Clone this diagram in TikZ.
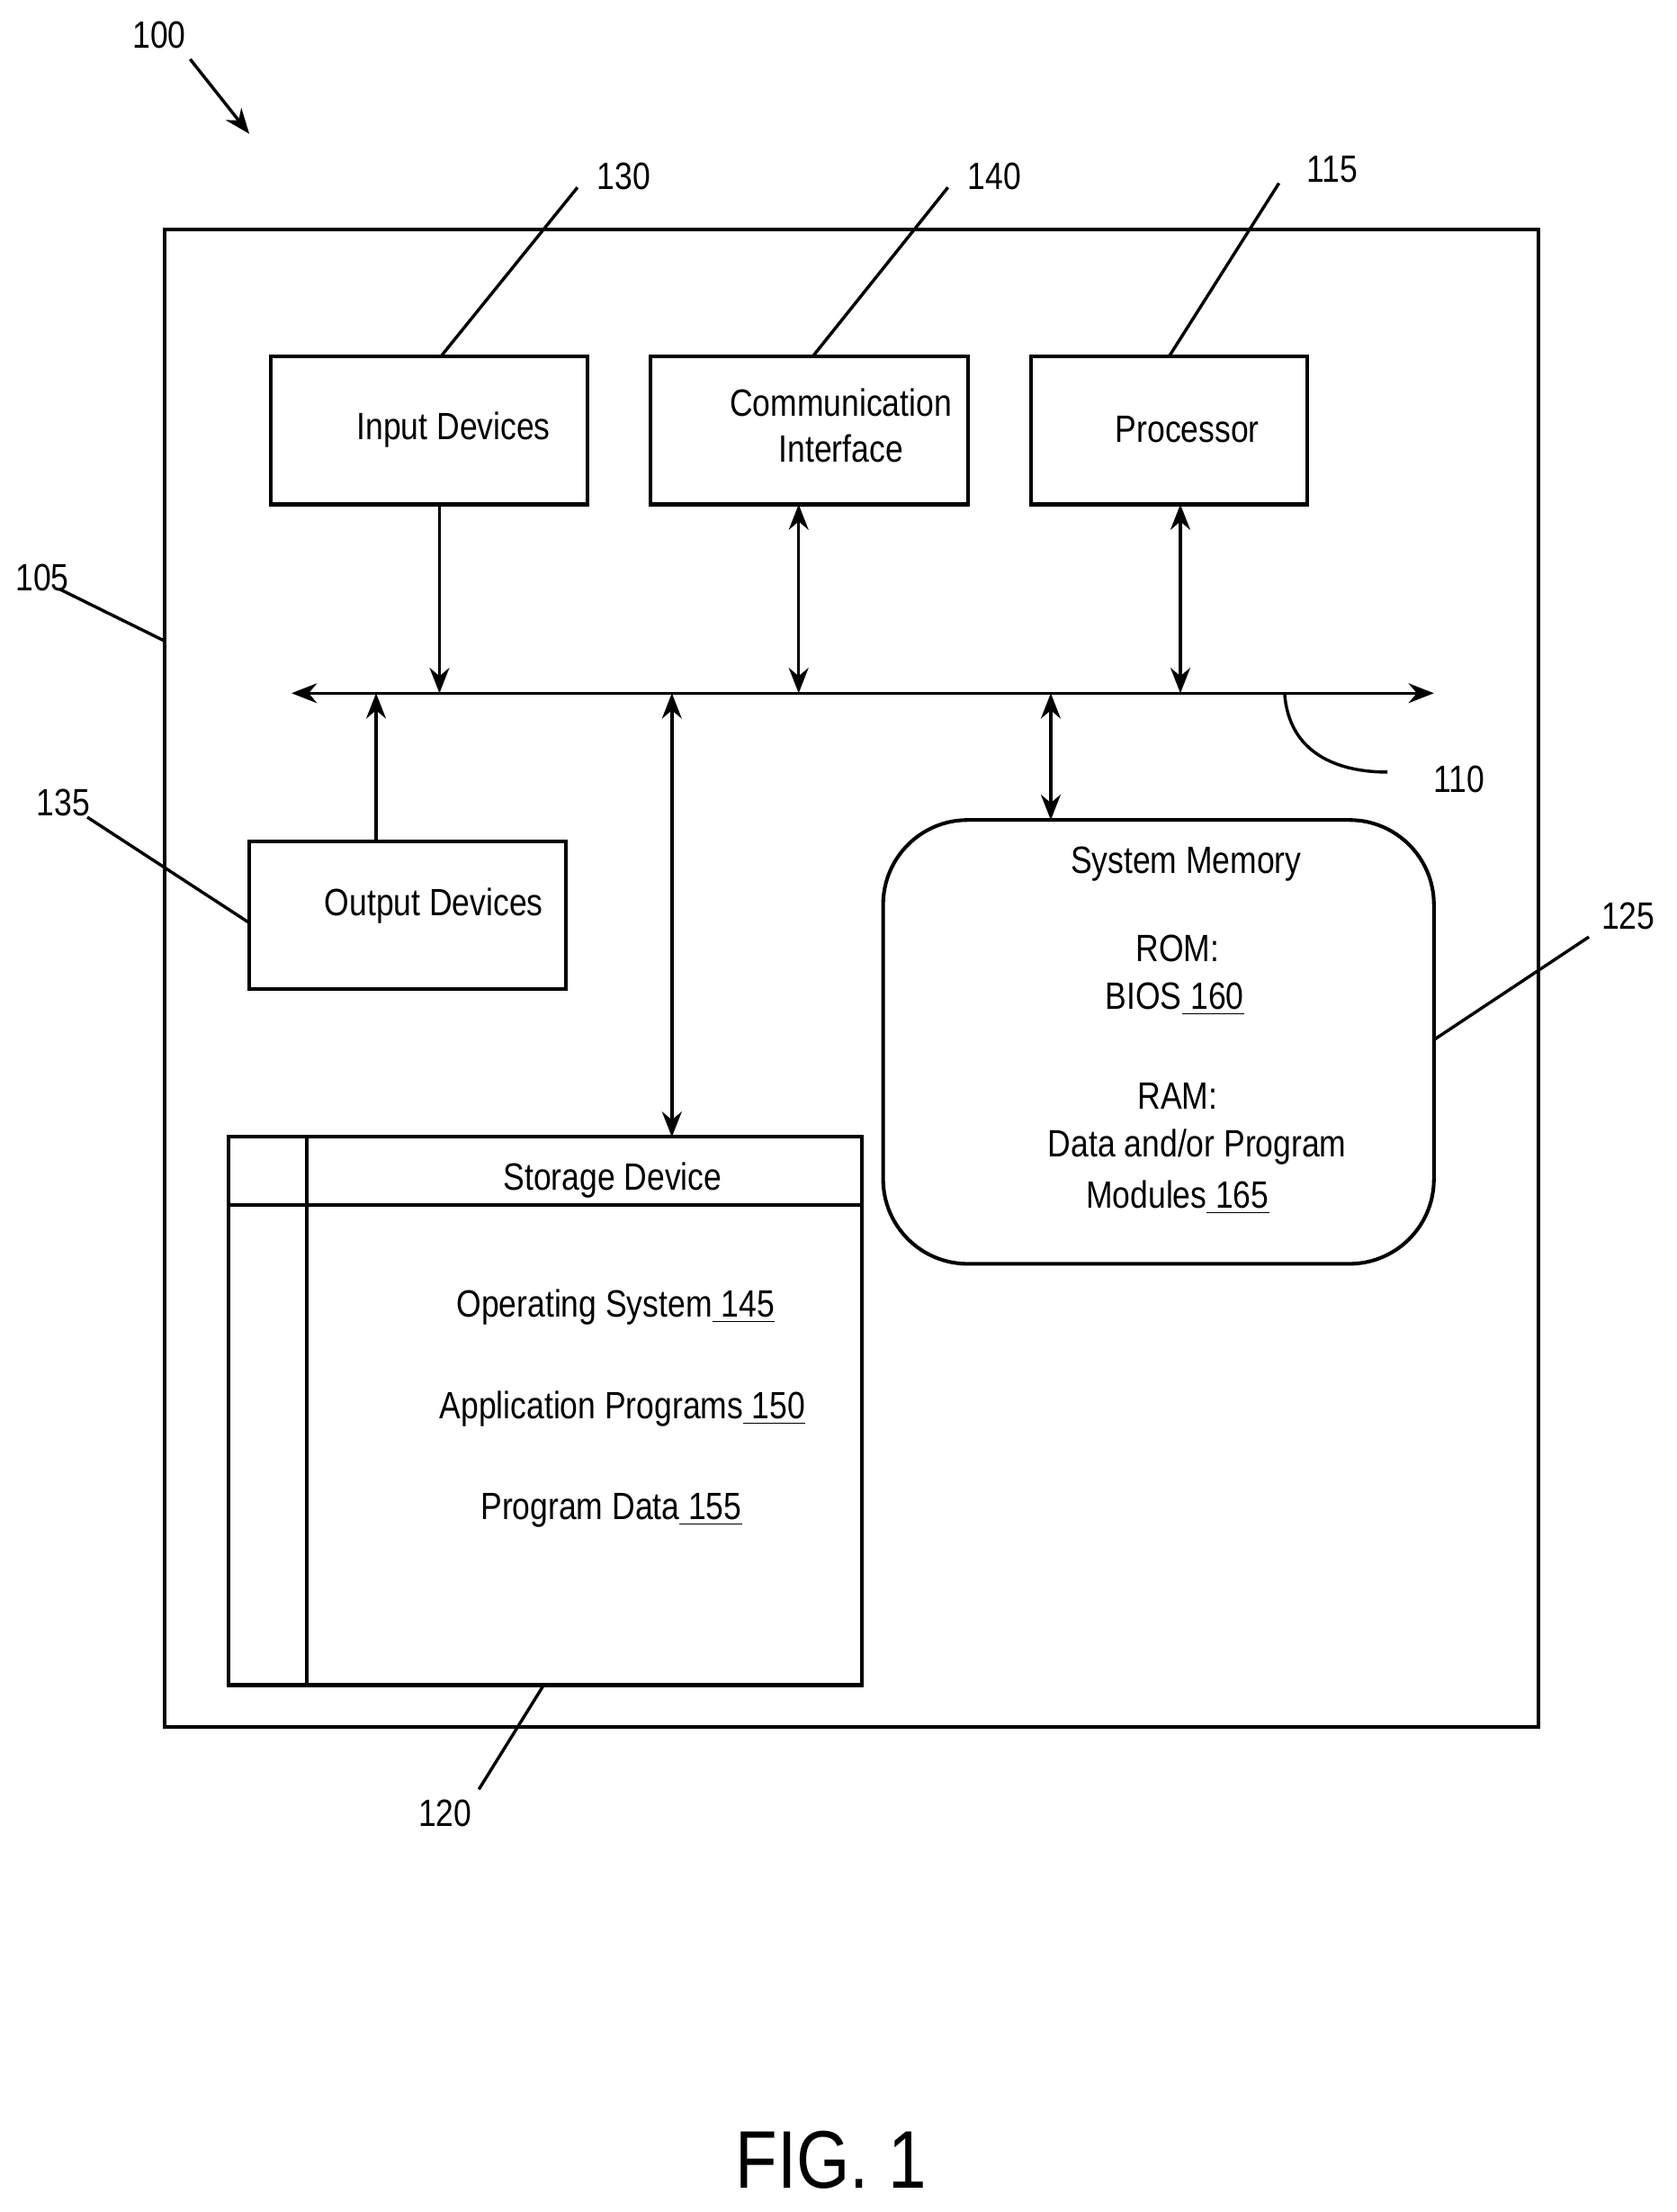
\documentclass[tikz,border=0pt]{standalone}
\usepackage{fontspec}
\setmainfont{Liberation Sans}[FakeStretch=0.84]
\usetikzlibrary{arrows.meta}
\begin{document}
\begin{tikzpicture}[x=0.5pt,y=-0.5pt,
  box/.style={draw,line width=1.3pt},
  ln/.style={line width=1.1pt},
  arr/.style={ln,-{Stealth[length=9pt,width=7pt]}},
  darr/.style={ln,{Stealth[length=9pt,width=7pt]}-{Stealth[length=9pt,width=7pt]}},
  txt/.style={font=\fontsize{13.5}{16.5}\selectfont,align=center},
  lbl/.style={font=\fontsize{13.5}{16}\selectfont}]
\useasboundingbox (0,0) rectangle (1190,1570);
\draw[box] (117,163) rectangle (1092,1226);
\node[box,minimum width=112.5pt,minimum height=52.5pt] (in) at (304.5,305.5) {};
\node[txt] at (322,305) {Input Devices};
\node[box,minimum width=112.5pt,minimum height=52.5pt] (ci) at (574.5,305.5) {};
\node[txt] at (597,302) {Communication\\Interface};
\node[box,minimum width=98pt,minimum height=52.5pt] (pr) at (830,305.5) {};
\node[txt] at (843,305) {Processor};
\node[box,minimum width=112.5pt,minimum height=52.5pt] (out) at (289.5,649.5) {};
\node[txt] at (308,643) {Output Devices};
\node[box,rounded corners=30pt,minimum width=195.5pt,minimum height=157.5pt] (mem) at (822.5,739.5) {};
\node[txt] at (842,613) {System Memory};
\node[txt] at (836,673) {ROM:};
\node[txt] at (834,709) {BIOS\underline{ 160}};
\node[txt] at (836,778) {RAM:};
\node[txt] at (850,814) {Data and/or Program};
\node[txt] at (836,850) {Modules\underline{ 165}};
\node[box,minimum width=225pt,minimum height=194.5pt] (st) at (387,1001.5) {};
\draw[box] (218,807) -- (218,1196) (162,855) -- (612,855);
\node[txt] at (435,838) {Storage Device};
\node[txt] at (437,928) {Operating System\underline{ 145}};
\node[txt] at (442,1000) {Application Programs\underline{ 150}};
\node[txt] at (434,1072) {Program Data\underline{ 155}};
% bus
\coordinate (bl) at (207,492); \coordinate (br) at (1018,492);
\draw[darr] (bl) -- (br);
\draw[arr] (312,358) -- (312,492);
\draw[darr] (567,358) -- (567,492);
\draw[darr] (838,358) -- (838,492);
\draw[arr] (267,597) -- (267,492);
\draw[darr] (477,492) -- (477,807);
\draw[darr] (746,492) -- (746,582);
% labels
\node[lbl] (l100) at (113,25) {100};
\draw[arr] (135,42) -- (177,95);
\node[lbl] at (443,125) {130}; \draw[ln] (410,133) -- (313,253);
\node[lbl] at (706,125) {140}; \draw[ln] (673,133) -- (577,253);
\node[lbl] at (946,120) {115}; \draw[ln] (908,130) -- (830,253);
\node[lbl] at (30,410) {105}; \draw[ln] (42,418) -- (117,455);
\node[lbl] at (45,570) {135}; \draw[ln] (62,580) -- (177,655);
\node[lbl] at (1156,650) {125}; \draw[ln] (1128,665) -- (1018,738);
\node[lbl] at (1036,553) {110}; \draw[ln] (912,492) .. controls (915,535) and (950,548) .. (985,548);
\node[lbl] at (316,1287) {120}; \draw[ln] (340,1270) -- (386,1196);
\node[font=\fontsize{29}{32}\selectfont] at (590,1533) {FIG. 1};
\end{tikzpicture}
\end{document}
